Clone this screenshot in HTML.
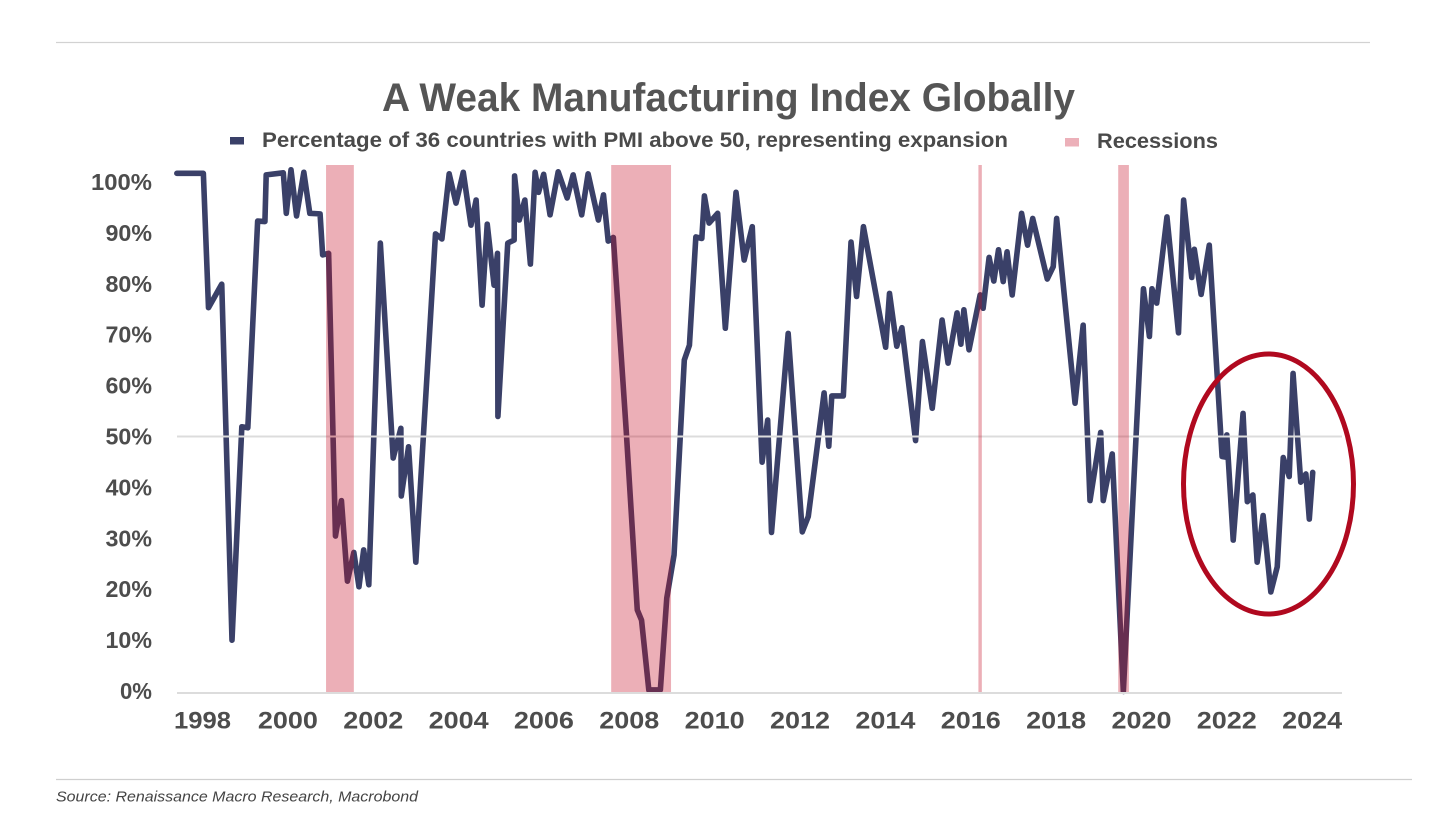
<!DOCTYPE html>
<html lang="en">
<head>
<meta charset="utf-8">
<title>A Weak Manufacturing Index Globally</title>
<style>
  html, body { margin: 0; padding: 0; background: #ffffff; }
  svg { display: block; font-family: "Liberation Sans", sans-serif; }
</style>
</head>
<body>
<svg id="chart" xmlns="http://www.w3.org/2000/svg" width="1456" height="819" viewBox="0 0 1456 819">
  <rect x="0" y="0" width="1456" height="819" fill="#ffffff"/>
  <line x1="56" y1="42.5" x2="1370" y2="42.5" stroke="#d2d2d2" stroke-width="1.2"/>
  <text x="382" y="111" font-size="40" font-weight="700" fill="#555555" textLength="693" lengthAdjust="spacingAndGlyphs">A Weak Manufacturing Index Globally</text>

  <rect x="230" y="137" width="14" height="7.5" fill="#3a4068"/>
  <text x="262" y="147" font-size="21" font-weight="700" fill="#4a4a4a" textLength="746" lengthAdjust="spacingAndGlyphs">Percentage of 36 countries with PMI above 50, representing expansion</text>
  <rect x="1065" y="138" width="14" height="8.5" fill="#ecb0b9"/>
  <text x="1097" y="148" font-size="21" font-weight="700" fill="#4a4a4a" textLength="121" lengthAdjust="spacingAndGlyphs">Recessions</text>

  <g id="series-layer"></g>
  <g id="grid-layer"></g>
  <g id="band-layer"></g>
  <g id="tick-layer"></g>

  <ellipse cx="1268.5" cy="484" rx="85" ry="130" fill="none" stroke="#b0091f" stroke-width="5"/>

  <line x1="56" y1="779.5" x2="1412" y2="779.5" stroke="#cfcfcf" stroke-width="1.2"/>
  <text x="56" y="801.5" font-size="15" font-style="italic" fill="#444444" textLength="362" lengthAdjust="spacingAndGlyphs">Source: Renaissance Macro Research, Macrobond</text>
</svg>
<script>
const periods = [1998.02,1998.64,1998.76,1999.07,1999.31,1999.54,1999.68,1999.91,2000.08,2000.11,2000.51,2000.58,2000.69,2000.82,2000.99,2001.13,2001.37,2001.43,2001.57,2001.73,2001.87,2002.01,2002.16,2002.28,2002.39,2002.51,2002.78,2003.08,2003.26,2003.27,2003.44,2003.61,2004.07,2004.22,2004.39,2004.55,2004.72,2004.90,2005.02,2005.16,2005.28,2005.44,2005.52,2005.53,2005.76,2005.91,2005.92,2006.03,2006.16,2006.29,2006.40,2006.48,2006.60,2006.75,2006.94,2007.15,2007.29,2007.49,2007.64,2007.88,2008.00,2008.11,2008.23,2008.53,2008.79,2008.89,2009.06,2009.33,2009.48,2009.65,2009.89,2010.01,2010.16,2010.30,2010.36,2010.47,2010.67,2010.85,2011.10,2011.29,2011.48,2011.71,2011.84,2011.93,2012.32,2012.65,2012.79,2013.16,2013.27,2013.34,2013.61,2013.79,2013.92,2014.08,2014.60,2014.69,2014.86,2014.98,2015.30,2015.46,2015.69,2015.92,2016.06,2016.27,2016.36,2016.43,2016.55,2016.81,2016.88,2017.02,2017.13,2017.24,2017.35,2017.44,2017.56,2017.78,2017.92,2018.04,2018.38,2018.52,2018.60,2019.03,2019.22,2019.38,2019.63,2019.69,2019.90,2020.16,2020.63,2020.77,2020.83,2020.94,2021.18,2021.45,2021.57,2021.76,2021.82,2021.98,2022.17,2022.47,2022.54,2022.58,2022.73,2022.96,2023.06,2023.19,2023.29,2023.43,2023.61,2023.76,2023.90,2024.04,2024.13,2024.31,2024.43,2024.51,2024.59];
const pctAbove50 = [101.3,101.3,75.1,79.7,10.3,51.9,51.7,92,91.9,101,101.4,93.5,102,93,101.5,93.5,93.4,85.4,85.7,30.6,37.5,21.8,27.4,20.7,27.9,21.1,87.7,45.8,51.6,38.4,48,25.5,89.5,88.5,101.2,95.5,101.5,91.2,96.1,75.6,91.4,79.5,85.7,53.9,87.7,88.3,100.8,92.2,96.1,83.6,101.5,97.6,101.1,93.2,101.6,96.5,101,93.2,101.2,92.2,97.1,88.1,88.8,51.3,16.2,14.2,0.6,0.6,18.5,26.9,64.9,67.8,88.9,88.6,96.9,91.6,93.5,71.1,97.6,84.4,90.9,45,53.2,31.3,70.1,31.4,34.4,58.5,48.1,57.9,57.9,87.9,77.3,90.9,67.4,77.9,67.6,71.2,49.2,68.5,55.5,72.7,64.3,74.1,68,74.7,66.9,77.6,75,84.9,80.3,86.4,80.2,86,77.6,93.5,87.3,92.5,80.7,83.1,92.5,56.5,71.7,37.5,50.8,37.5,46.6,0.3,78.8,69.5,78.8,76,92.8,70.2,96.1,81,86.5,77.7,87.3,46.1,46,50.3,29.8,54.5,37.3,38.6,25.5,34.6,19.7,24.6,45.9,42.2,62.3,41.1,42.7,33.9,43];
const recessionStarts = [2001.51,2008.18,2016.77,2020.04];
const recessionEnds = [2002.16,2009.58,2016.85,2020.29];
const yTickValues = [0,10,20,30,40,50,60,70,80,90,100];
const xTickYears = [1998,2000,2002,2004,2006,2008,2010,2012,2014,2016,2018,2020,2022,2024];
const gridValues = [0,50];

const NS = 'http://www.w3.org/2000/svg';
function xScale(t) { return 176 + (t - 1998) * 42.75; }
function yScale(v) { return 693 - v * 5.13; }
function make(tag, attrs, parent) {
  const el = document.createElementNS(NS, tag);
  for (const k in attrs) el.setAttribute(k, attrs[k]);
  parent.appendChild(el);
  return el;
}

const seriesLayer = document.getElementById('series-layer');
const gridLayer = document.getElementById('grid-layer');
const bandLayer = document.getElementById('band-layer');
const tickLayer = document.getElementById('tick-layer');

const pts = periods.map((t, i) => xScale(t).toFixed(2) + ',' + yScale(pctAbove50[i]).toFixed(2)).join(' ');
const seriesLine = make('polyline', { points: pts, fill: 'none', stroke: '#3a4068', 'stroke-width': 5.6, 'stroke-linejoin': 'round', 'stroke-linecap': 'round' }, seriesLayer);



gridValues.forEach(v => {
  const g = make('line', { x1: 177, x2: 1342, y1: yScale(v), y2: yScale(v), stroke: '#dcdcdc', 'stroke-width': 2 }, gridLayer);
  
  
});

recessionStarts.forEach((s, i) => {
  const x0 = xScale(s), x1 = xScale(recessionEnds[i]);
  const r = make('rect', { x: x0, y: 165, width: x1 - x0, height: yScale(0) - 165 - 1, fill: 'rgb(197,12,36)', 'fill-opacity': 0.33 }, bandLayer);
  
  
});

yTickValues.forEach(v => {
  const label = v + '%';
  const base = yScale(v) + (v - 50) * 0.04 + 8;
  const t = make('text', { x: 152, y: base, 'text-anchor': 'end', 'font-size': 23, 'font-weight': 700, fill: '#4d4d4d', textLength: label.length * 14.5 + 3, lengthAdjust: 'spacingAndGlyphs' }, tickLayer);
  t.textContent = label;
  
  
});

xTickYears.forEach(y => {
  const t = make('text', { x: xScale(y + 0.62) - (y - 1998) * 0.07, y: 728.5, 'text-anchor': 'middle', 'font-size': 24, 'font-weight': 700, fill: '#4d4d4d', textLength: y === 1998 ? 57 : 60, lengthAdjust: 'spacingAndGlyphs' }, tickLayer);
  t.textContent = String(y);
  
  
});
</script>
</body>
</html>
